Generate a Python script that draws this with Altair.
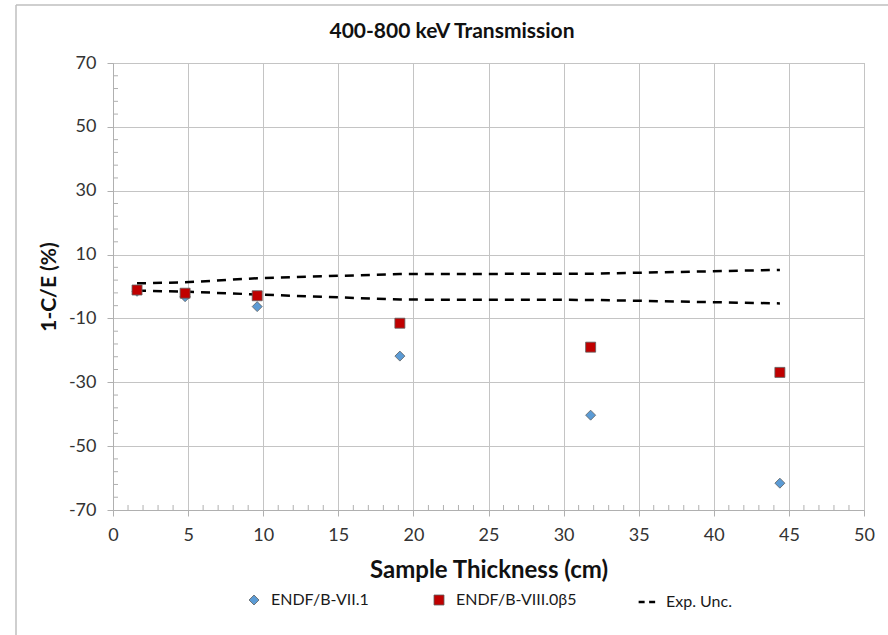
import altair as alt
import pandas as pd

# ---- data ----
thickness = [1.6, 4.8, 9.6, 19.1, 31.8, 44.4]
endf_b71 = [-1.5, -3.2, -6.3, -21.8, -40.3, -61.6]
endf_b80b5 = [-1.1, -2.1, -2.9, -11.5, -19.0, -26.9]
unc_upper = [1.0, 1.3, 2.6, 3.9, 4.0, 5.2]
unc_lower = [-1.3, -1.6, -2.5, -4.1, -4.2, -5.3]

series_names = ["ENDF/B-VII.1", "ENDF/B-VIII.0β5"]
unc_name = "Exp. Unc."
x_ticks = list(range(0, 51, 5))
y_ticks = list(range(-70, 71, 20))
x_minor = [v for v in range(0, 51) if v % 5]
y_minor = [v for v in range(-70, 71, 4) if (v + 70) % 20]

W, H = 751, 447
FONT = "Lato"

pts = pd.DataFrame(
    {"thickness": thickness * 2,
     "value": endf_b71 + endf_b80b5,
     "series": [series_names[0]] * 6 + [series_names[1]] * 6}
)
lines = pd.DataFrame(
    {"thickness": thickness * 2,
     "value": unc_upper + unc_lower,
     "unc": [unc_name] * 12,
     "band": ["upper"] * 6 + ["lower"] * 6}
)

xscale = alt.Scale(domain=[0, 50], nice=False, zero=False)
yscale = alt.Scale(domain=[-70, 70], nice=False, zero=False)

xaxis = alt.Axis(values=x_ticks, title="Sample Thickness (cm)", grid=True,
                 gridColor="#c4c4c4", domainColor="#b0b0b0", tickColor="#b0b0b0",
                 tickSize=6, labelFontSize=18, labelFont=FONT, labelColor="#333333",
                 labelPadding=10, labelFlush=False, labelExpr="datum.value + ''",
                 titleFont=FONT, titleFontSize=24,
                 titleFontWeight="bold", titleColor="#111111", titlePadding=14)
yaxis = alt.Axis(values=y_ticks, title="1-C/E (%)", grid=True,
                 gridColor="#c4c4c4", domainColor="#b0b0b0", tickColor="#b0b0b0",
                 tickSize=6, labelFontSize=18, labelFont=FONT, labelColor="#333333",
                 labelPadding=11, labelFlush=False, labelExpr="datum.value + ''",
                 titleFont=FONT, titleFontSize=21,
                 titleFontWeight="bold", titleColor="#111111", titlePadding=9)

pt_legend = alt.Legend(
    title=None, orient="none", direction="horizontal",
    legendX=133, legendY=529, columnPadding=62,
    labelFontSize=16, labelFont=FONT, labelColor="#1a1a1a",
    labelOffset=9, symbolSize=100, symbolStrokeColor="#606060",
    symbolStrokeWidth=0.8,
)
unc_legend = alt.Legend(
    title=None, orient="none", direction="horizontal",
    legendX=524, legendY=529,
    labelFontSize=16, labelFont=FONT, labelColor="#1a1a1a",
    labelOffset=9, symbolType="stroke", symbolSize=280,
    symbolStrokeColor="#000000", symbolStrokeWidth=2.5, symbolDash=[6, 4.5],
)

band_layer = alt.Chart(lines).mark_line(strokeWidth=2.5, color="#000000",
                                        strokeDash=[9, 7]).encode(
    x=alt.X("thickness:Q", scale=xscale, axis=xaxis),
    y=alt.Y("value:Q", scale=yscale, axis=yaxis),
    opacity=alt.Opacity("unc:N", scale=alt.Scale(domain=[unc_name], range=[1]),
                        legend=unc_legend),
    detail="band:N",
)

point_layer = alt.Chart(pts).mark_point(filled=True, opacity=1, size=100,
                                         stroke="#606060", strokeWidth=0.8).encode(
    x=alt.X("thickness:Q", scale=xscale, axis=xaxis),
    y=alt.Y("value:Q", scale=yscale, axis=yaxis),
    color=alt.Color("series:N", scale=alt.Scale(domain=series_names,
                    range=["#5b9bd5", "#c00000"]), legend=pt_legend),
    shape=alt.Shape("series:N", scale=alt.Scale(domain=series_names,
                    range=["diamond", "square"]), legend=pt_legend),
)

xminor_layer = alt.Chart(pd.DataFrame({"thickness": x_minor})).mark_rule(
    color="#b0b0b0", strokeWidth=1).encode(
    x=alt.X("thickness:Q", scale=xscale, axis=xaxis),
    y=alt.value(H - 5), y2=alt.value(H),
)
yminor_layer = alt.Chart(pd.DataFrame({"value": y_minor})).mark_rule(
    color="#b0b0b0", strokeWidth=1).encode(
    y=alt.Y("value:Q", scale=yscale, axis=yaxis),
    x=alt.value(0), x2=alt.value(5),
)

frame_left = alt.Chart(pd.DataFrame({"k": [0]})).mark_rule(
    color="#bfbfbf", strokeWidth=1.5).encode(
    x=alt.value(-97), y=alt.value(-58), y2=alt.value(635 - 63))
frame_top = alt.Chart(pd.DataFrame({"k": [0]})).mark_rule(
    color="#bfbfbf", strokeWidth=1.5).encode(
    x=alt.value(-97), x2=alt.value(888 - 113), y=alt.value(-58))

chart = alt.layer(
    xminor_layer, yminor_layer, band_layer, point_layer, frame_left, frame_top
).properties(
    width=W, height=H,
    title=alt.TitleParams("400-800 keV Transmission", font=FONT, fontSize=21,
                          fontWeight="bold", color="#111111", anchor="middle",
                          frame="bounds", offset=-38),
    autosize=alt.AutoSizeParams(type="none"),
    padding={"left": 113, "top": 63, "right": 24, "bottom": 125},
    background="white",
).resolve_legend(
    color="independent", shape="independent", opacity="independent"
).configure_view(stroke="#b0b0b0", strokeWidth=1)

chart.save("out.html", embed_options={"renderer": "svg", "actions": False})
